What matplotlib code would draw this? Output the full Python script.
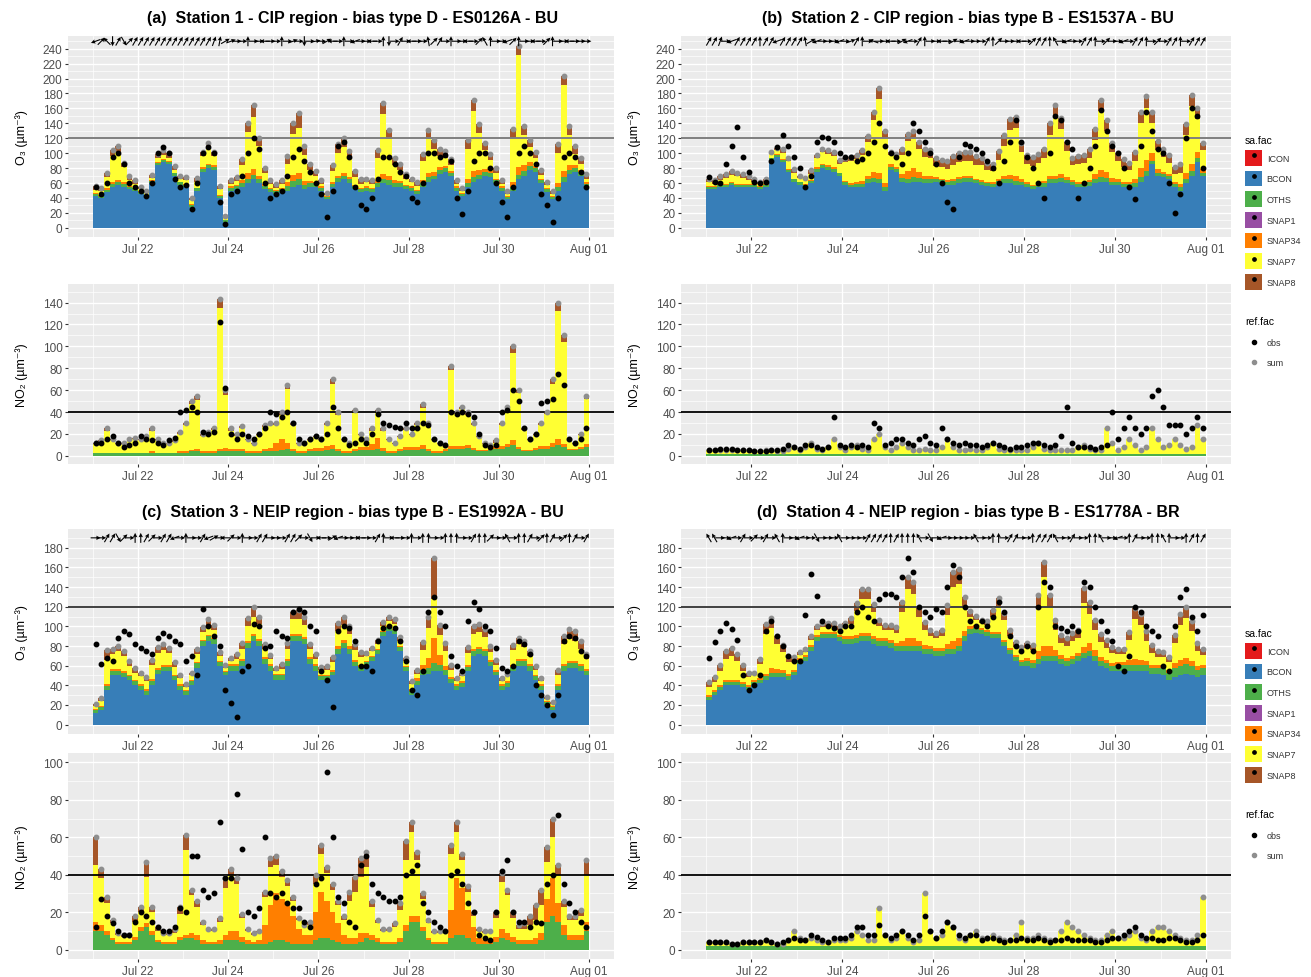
import numpy as np
import pandas as pd
import matplotlib
matplotlib.use("Agg")
import matplotlib.pyplot as plt
import matplotlib.dates as mdates
from matplotlib.patches import Patch
from matplotlib.lines import Line2D
from matplotlib.legend_handler import HandlerTuple

plt.rcParams['font.family'] = ['Liberation Sans', 'DejaVu Sans']

# 3-hourly values: 21 Jul 00h .. 31 Jul 21h (8 values per day)
times = pd.date_range("2019-07-21 00:00", periods=88, freq="3h")

sources = ["ICON", "BCON", "OTHS", "SNAP1", "SNAP34", "SNAP7", "SNAP8"]
colors = {"ICON": "#E41A1C", "BCON": "#377EB8", "OTHS": "#4DAF4A", "SNAP1": "#984EA3",
          "SNAP34": "#FF7F00", "SNAP7": "#FFFF33", "SNAP8": "#A65628"}

titles = ["(a)  Station 1 - CIP region - bias type D - ES0126A - BU",
          "(b)  Station 2 - CIP region - bias type B - ES1537A - BU",
          "(c)  Station 3 - NEIP region - bias type B - ES1992A - BU",
          "(d)  Station 4 - NEIP region - bias type B - ES1778A - BR"]
xlabels = ["Jul 22", "Jul 24", "Jul 26", "Jul 28", "Jul 30", "Aug 01"]

# ---- station 1 ----
a_o3_bcon = [42,40,48,55,58,55,52,50, 45,40,60,84,88,85,70,58, 55,28,50,75,80,78,40,8, 50,52,55,60,65,60,52,48, 45,48,50,55,58,52,55,55, 50,38,55,62,65,60,52,48, 50,48,55,60,58,55,55,52, 50,45,55,62,65,72,75,70, 50,42,55,62,65,70,68,60, 50,38,50,65,70,78,75,60, 48,38,50,62,72,75,70,55]
a_o3_oths = [3,3,3,4,4,4,3,3, 3,3,3,3,3,3,3,3, 3,3,3,4,4,4,3,2, 4,4,5,6,6,5,4,4, 4,4,6,8,8,6,5,5, 4,3,4,5,5,5,4,4, 4,4,5,6,6,5,5,4, 4,4,5,6,5,5,5,4, 4,3,5,6,6,5,5,4, 4,3,5,6,6,5,5,4, 4,3,5,6,6,5,5,4]
a_o3_snap34 = [1,1,2,2,2,2,1,1, 1,1,1,1,1,1,1,1, 1,1,1,2,2,2,1,1, 2,2,4,8,8,5,3,2, 2,2,5,8,8,5,3,2, 2,1,2,3,3,3,2,2, 2,2,4,6,5,4,3,2, 2,2,4,6,5,4,3,2, 2,1,5,8,6,4,3,2, 2,1,6,10,8,5,3,2, 2,1,5,8,6,4,3,2]
a_o3_snap7 = [5,5,15,35,38,20,8,5, 3,3,3,5,6,5,4,3, 5,5,8,15,22,12,8,3, 3,5,20,55,70,40,15,5, 3,5,25,55,60,35,15,8, 3,2,15,30,35,25,10,5, 5,5,30,80,50,20,15,8, 5,5,25,45,30,15,10,8, 3,3,40,80,50,25,15,8, 3,3,60,150,40,20,10,5, 3,3,40,115,40,15,8,5]
a_o3_snap8 = [5,5,5,8,8,6,5,5, 3,3,4,6,6,6,5,4, 4,3,5,6,6,6,4,2, 5,5,8,12,15,10,6,5, 5,5,10,15,20,12,8,6, 5,3,8,12,12,10,8,6, 5,5,10,15,12,10,8,6, 5,5,10,12,12,10,10,8, 5,5,12,15,12,10,8,6, 5,5,12,12,12,10,8,6, 5,5,12,12,12,10,8,6]
a_o3_obs = [55,45,60,95,100,85,60,55, 50,42,60,100,108,100,65,55, 58,25,60,100,108,100,35,5, 45,50,70,100,120,105,60,40, 45,50,70,95,105,90,75,60, 45,15,50,110,115,95,55,30, 25,40,65,95,95,85,75,70, 40,35,60,100,100,95,98,90, 40,18,50,90,100,100,80,60, 35,15,55,100,110,100,85,45, 30,8,40,95,100,95,75,55]
a_o3_wind = [200,45,135,270,60,300,45,60, 60,60,60,60,60,60,60,60, 60,60,60,60,60,70,80,30, 20,0,0,90,0,0,180,0, 0,90,0,20,0,270,0,10, 0,30,180,0,90,0,200,0, 0,180,0,90,270,0,60,0, 180,0,0,100,45,60,0,90, 0,0,180,0,45,120,90,0, 0,200,45,90,0,0,180,0, 45,90,0,0,180,0,0,0]

a_no2_oths = [3,3,3,3,3,3,3,3, 3,3,3,3,3,3,3,3, 3,4,4,3,3,3,4,4, 4,4,4,3,3,3,4,4, 4,5,6,4,3,3,4,4, 4,5,6,4,3,3,4,5, 5,5,6,4,3,3,4,5, 5,5,6,4,3,3,4,6, 6,6,7,5,4,4,5,6, 6,8,10,6,4,4,5,6, 6,8,10,8,5,5,6,8]
a_no2_snap34 = [0,0,0,0,0,0,0,0, 0,0,1,0,0,0,0,1, 1,1,2,1,1,1,2,3, 2,2,2,1,1,1,2,3, 8,10,6,2,1,1,2,3, 3,4,4,2,1,1,2,3, 3,6,10,3,1,1,2,3, 3,3,4,2,1,1,2,3, 3,3,3,2,1,1,2,3, 3,3,4,2,1,1,2,3, 3,4,5,3,1,1,2,3]
a_no2_snap7 = [8,10,20,11,8,8,11,12, 11,14,19,11,8,8,10,16, 24,42,45,14,17,20,129,49, 17,12,19,10,7,15,20,21, 16,22,49,22,7,7,8,10, 7,19,56,31,10,7,33,11, 6,12,23,16,10,7,11,16, 11,20,34,22,10,7,3,69, 29,34,27,21,12,6,2,3, 19,31,80,49,19,9,12,19, 29,54,117,93,8,5,11,41]
a_no2_snap8 = [1,1,2,1,1,1,1,1, 1,1,2,1,1,1,1,2, 2,3,4,2,1,1,8,4, 2,2,2,1,1,1,2,2, 2,3,4,2,1,1,1,1, 1,2,4,3,1,1,3,1, 1,2,3,2,1,1,1,1, 1,2,3,2,1,1,1,4, 2,2,3,2,1,1,1,2, 2,3,6,3,1,1,1,2, 2,4,8,6,1,1,1,3]
a_no2_obs = [12,12,15,18,12,8,10,12, 18,15,14,12,10,14,16,40, 42,45,40,22,20,22,122,62, 20,15,20,18,15,20,25,40, 38,35,40,30,15,12,15,18, 15,20,45,25,15,10,12,15, 12,20,38,30,28,26,25,30, 25,25,30,28,15,12,10,40, 38,40,38,35,20,10,8,10, 40,42,60,50,25,15,20,48, 50,52,75,65,15,12,15,25]

# ---- station 2 ----
b_o3_bcon = [52,52,55,55,57,55,55,55, 55,52,55,90,95,88,75,62, 58,55,60,75,80,78,75,70, 58,55,55,55,60,62,60,50, 78,75,62,60,62,62,60,60, 62,60,58,58,60,62,62,60, 58,56,55,58,60,60,58,58, 55,52,55,55,60,60,62,60, 58,55,55,56,60,62,62,58, 58,55,55,55,62,70,85,70, 68,65,55,50,60,70,88,70]
b_o3_oths = [3,3,3,3,3,3,3,3, 3,3,3,3,3,3,3,3, 3,3,3,4,4,4,4,3, 3,3,4,4,5,5,5,5, 4,4,5,6,6,5,5,5, 4,4,4,5,5,5,5,4, 4,4,4,5,5,5,5,4, 4,4,4,5,5,5,5,4, 4,4,4,5,6,6,5,4, 4,4,4,5,6,6,5,4, 4,4,4,5,6,6,5,4]
b_o3_snap34 = [1,1,1,1,1,1,1,1, 1,1,1,1,1,1,1,1, 1,1,1,2,2,2,2,1, 2,2,3,4,5,8,8,5, 3,3,5,10,12,8,5,4, 2,2,2,3,3,3,2,2, 2,2,2,3,5,6,6,4, 2,2,3,3,5,5,5,4, 2,2,3,3,6,10,8,5, 3,3,3,5,12,15,10,5, 3,3,3,4,8,10,8,5]
b_o3_snap7 = [5,3,5,8,10,10,8,5, 3,3,3,5,5,8,10,8, 5,5,8,12,15,15,15,12, 25,30,30,35,45,70,100,60, 12,12,25,40,40,30,25,25, 15,15,15,18,20,20,20,18, 20,15,15,25,40,60,65,35, 25,25,25,30,55,80,60,35, 20,25,25,30,45,78,55,35, 25,20,15,25,60,70,40,25, 20,15,10,15,50,77,45,25]
b_o3_snap8 = [5,5,5,5,5,5,5,5, 3,3,3,3,3,5,5,5, 3,3,5,5,5,5,5,5, 5,5,5,6,8,10,15,10, 5,5,8,10,10,10,10,10, 10,10,10,12,12,12,12,12, 10,10,10,12,15,15,15,12, 12,12,12,12,15,15,15,12, 10,10,10,12,15,15,15,12, 10,10,10,12,15,15,15,12, 10,10,10,12,15,15,15,10]
b_o3_obs = [68,62,60,85,110,135,95,75, 62,60,62,90,108,125,110,95, 80,55,70,115,122,120,115,100, 95,95,90,92,100,115,140,110, 100,95,85,100,140,130,115,100, 85,60,35,25,95,112,110,105, 100,90,80,60,90,115,145,115, 95,80,60,40,100,150,145,115, 105,40,60,80,110,158,130,110, 100,80,55,38,110,155,130,105, 100,60,20,45,120,160,150,80]
b_o3_wind = [60,60,70,0,200,60,60,60, 60,90,60,60,200,60,60,60, 60,100,30,200,0,0,0,200, 0,20,60,90,0,160,0,0, 180,0,30,200,0,60,90,0, 0,180,0,30,0,200,0,0, 0,60,90,45,0,0,0,180, 0,45,60,60,90,120,0,200, 0,0,60,60,90,0,45,0, 0,200,0,60,60,90,0,45, 0,60,60,90,0,60,60,60]

b_no2_oths = [2,2,2,2,2,2,2,2, 2,2,2,2,2,2,2,2, 2,2,2,2,2,2,2,2, 2,2,2,2,2,2,2,2, 2,2,2,2,2,2,2,2, 2,2,2,2,2,2,2,2, 2,2,2,2,2,2,2,2, 2,2,2,2,2,2,2,2, 2,2,2,2,2,2,2,2, 2,2,2,2,2,2,2,2, 2,2,2,2,2,2,2,2]
b_no2_snap7 = [3,3,3,3,3,3,3,3, 2,2,3,3,2,2,4,6, 3,6,10,4,3,6,13,6, 3,6,8,4,3,13,18,6, 3,6,10,6,3,3,4,3, 3,6,13,6,3,3,4,3, 3,6,10,4,3,3,3,3, 3,6,10,4,3,3,3,3, 3,6,8,4,3,3,23,10, 3,6,13,8,3,6,23,13, 6,8,13,8,4,6,26,13]
b_no2_obs = [5,5,6,6,6,5,5,5, 4,4,4,5,5,6,10,8, 6,10,10,8,6,8,35,10, 8,10,8,10,8,30,25,10, 12,15,15,12,10,15,18,12, 10,25,15,12,10,12,10,10, 8,10,12,10,8,6,8,8, 10,12,12,10,8,10,18,45, 12,8,8,8,6,8,10,40, 15,25,35,25,20,25,55,60, 45,28,28,28,20,25,35,25]

# ---- station 3 ----
c_o3_bcon = [12,15,35,50,50,48,45,40, 35,30,40,52,55,55,45,35, 30,40,58,80,85,82,60,50, 55,55,60,78,85,80,62,55, 45,45,60,85,85,82,62,55, 45,45,50,72,78,72,60,55, 60,65,72,90,95,92,75,55, 30,40,50,52,55,55,50,42, 35,38,55,70,72,70,60,50, 35,38,55,60,60,55,45,35, 20,15,35,55,58,58,55,50]
c_o3_oths = [3,3,4,5,5,5,4,4, 4,4,4,4,4,4,4,4, 4,4,5,5,5,5,4,4, 5,5,5,5,5,5,5,5, 5,5,5,5,5,5,5,5, 4,4,4,5,5,5,4,4, 4,4,4,4,4,4,4,4, 4,4,6,6,8,6,6,4, 4,4,4,5,5,5,4,4, 4,4,4,5,5,5,4,4, 3,3,4,5,5,5,5,5]
c_o3_snap34 = [1,1,2,2,2,2,1,1, 2,2,2,2,2,2,2,2, 1,1,1,1,1,1,1,1, 2,2,2,2,2,2,2,2, 2,2,2,2,2,2,2,2, 2,2,2,3,3,3,2,2, 1,1,1,1,1,1,1,1, 2,3,5,10,25,10,4,2, 2,2,2,2,2,2,2,2, 2,2,2,2,2,2,2,2, 1,1,2,2,2,2,2,2]
c_o3_snap7 = [3,5,25,15,18,15,10,8, 8,8,15,15,15,12,8,6, 3,5,8,8,10,8,5,3, 3,5,10,15,18,15,8,5, 3,5,10,15,15,12,8,5, 5,5,8,15,15,12,10,8, 5,5,5,5,5,5,5,5, 5,5,15,30,40,20,15,8, 3,5,12,15,15,12,8,5, 3,5,15,15,12,8,5,3, 2,2,10,20,22,20,15,10]
c_o3_snap8 = [2,3,10,5,5,5,5,5, 4,4,5,6,6,5,5,4, 3,3,5,5,6,5,4,3, 3,5,6,8,10,8,5,4, 3,5,6,8,10,8,5,5, 3,4,5,8,8,8,6,5, 3,3,4,4,5,5,4,3, 3,4,8,12,42,10,8,5, 3,4,6,8,8,8,6,5, 3,3,5,6,6,5,4,3, 2,2,5,8,10,10,8,5]
c_o3_obs = [82,62,68,65,88,95,92,82, 78,75,72,88,93,90,85,82, 65,70,50,118,100,90,80,35, 22,8,55,60,102,100,78,80, 95,90,88,115,118,115,100,95, 55,45,18,95,100,98,85,60, 60,55,85,98,100,98,85,65, 35,30,55,115,130,115,100,70, 60,55,105,125,118,100,95,78, 58,55,60,85,82,72,40,30, 20,10,30,85,90,88,75,70]
c_o3_wind = [0,0,60,60,300,45,0,90, 90,60,45,0,60,60,200,0, 90,0,0,60,200,30,0,180, 45,0,90,0,0,60,60,0, 0,0,60,60,45,0,300,0, 180,0,30,200,0,0,0,180, 0,0,60,90,0,180,0,0, 90,0,90,90,0,0,90,90, 90,0,0,60,90,90,45,0, 0,120,0,90,90,60,0,45, 90,60,0,45,90,60,0,60]

c_no2_oths = [10,10,8,5,3,3,3,5, 10,12,8,4,3,3,3,5, 6,6,5,3,3,3,3,5, 5,5,4,3,3,3,3,4, 5,5,4,3,3,3,3,5, 6,6,5,4,3,3,3,4, 6,5,4,3,3,3,4,10, 15,15,10,5,3,3,3,6, 8,8,6,4,3,3,3,4, 6,5,4,3,3,3,3,5, 15,18,15,8,5,5,5,10]
c_no2_snap34 = [5,3,2,1,1,1,1,2, 2,2,2,1,1,1,1,2, 2,3,3,2,1,1,2,3, 5,5,3,2,1,2,10,20, 25,22,20,15,8,5,5,15, 25,20,15,10,5,3,3,5, 3,3,2,1,1,1,2,3, 3,3,2,1,1,1,1,15, 30,25,15,8,3,2,2,3, 5,4,3,2,2,2,3,4, 12,20,10,5,3,3,3,5]
c_no2_snap7 = [30,25,15,8,4,3,3,8, 8,25,10,5,4,4,5,12, 45,20,15,8,6,6,10,25, 30,25,10,5,4,4,15,20, 15,12,10,8,5,4,5,15, 20,15,12,10,8,20,25,30, 35,15,8,6,6,8,15,35, 45,30,15,8,5,5,5,30, 25,15,10,6,4,4,4,10, 25,20,10,6,6,8,10,15, 20,22,15,10,8,8,10,25]
c_no2_snap8 = [15,5,3,2,1,1,1,3, 3,8,3,2,1,1,2,4, 8,3,3,2,1,1,2,5, 3,3,2,1,1,1,3,5, 5,3,3,2,1,1,2,5, 5,3,3,2,2,5,8,10, 8,3,2,1,1,2,4,10, 5,4,3,2,1,1,1,5, 5,3,3,2,1,1,1,3, 5,3,3,2,3,5,8,8, 8,10,5,3,2,2,3,8]
c_no2_obs = [12,27,18,14,10,8,8,15, 20,18,15,12,10,10,12,22, 20,50,50,32,28,30,68,38, 38,83,54,20,18,22,60,30, 28,30,25,22,22,15,12,35, 38,95,60,28,25,15,12,45, 50,35,30,28,26,26,28,40, 42,45,25,20,15,12,10,40, 42,35,25,20,8,6,5,20, 42,48,20,15,15,12,15,14, 35,40,72,35,25,20,15,12]

# ---- station 4 ----
d_o3_bcon = [25,30,35,40,40,40,38,35, 40,42,45,48,48,48,45,50, 62,65,75,85,88,88,88,85, 82,82,83,85,85,82,80,80, 78,75,75,75,75,75,72,72, 70,70,72,72,75,85,92,93, 92,90,88,88,80,72,65,60, 60,58,62,65,65,65,62,60, 62,65,68,70,65,60,58,55, 55,55,55,55,55,55,52,52, 50,45,48,50,52,50,48,50]
d_o3_oths = [3,3,3,3,3,3,3,3, 3,3,4,5,5,5,4,4, 4,4,4,4,4,4,4,4, 5,5,5,5,5,5,5,5, 5,5,5,5,5,5,5,5, 5,5,5,5,5,5,5,5, 4,4,4,4,4,4,4,4, 5,5,5,5,5,5,5,5, 5,5,5,5,5,5,5,5, 6,6,6,6,6,6,6,6, 8,8,10,10,10,10,8,8]
d_o3_snap34 = [2,2,2,2,2,2,2,2, 2,2,3,5,4,3,3,2, 2,2,2,2,2,2,2,2, 3,3,3,3,3,3,3,3, 3,3,5,8,8,5,4,3, 3,3,5,8,8,5,3,3, 2,2,2,2,2,2,2,2, 3,3,8,10,10,6,4,3, 3,3,6,8,6,4,3,3, 3,3,5,6,5,4,3,3, 3,3,5,6,6,5,4,3]
d_o3_snap7 = [8,8,15,22,25,20,12,8, 5,15,40,40,25,18,12,8, 3,3,5,5,5,5,5,5, 8,12,25,35,35,25,12,8, 10,10,30,50,45,25,15,10, 10,12,30,55,55,25,10,5, 5,5,15,25,20,12,8,8, 10,10,45,70,40,20,12,12, 15,15,45,30,20,15,12,10, 8,8,20,40,35,20,12,8, 8,8,20,35,40,30,15,10]
d_o3_snap8 = [5,5,6,8,8,7,6,5, 3,5,10,10,8,7,6,5, 3,3,4,4,4,4,4,4, 5,6,8,10,10,8,6,5, 5,6,10,12,12,10,8,6, 5,6,10,15,15,10,6,5, 3,4,8,10,8,6,5,5, 5,5,12,15,12,10,8,8, 8,8,15,12,10,8,8,6, 5,5,8,12,12,10,8,6, 5,5,8,12,12,10,8,6]
d_o3_obs = [68,84,95,103,97,86,50,35, 40,50,95,105,90,80,70,65, 65,112,153,131,105,100,98,95, 100,100,115,120,110,105,128,133, 133,130,150,170,155,120,115,110, 118,115,140,162,150,120,105,100, 105,100,110,125,115,90,80,75, 80,75,120,145,140,100,98,95, 100,95,145,140,120,105,95,85, 60,55,70,120,115,100,95,90, 60,55,100,130,138,110,95,112]
d_o3_wind = [120,120,0,0,200,0,60,0, 45,0,60,0,120,90,0,0, 200,0,0,300,0,0,0,120, 0,0,0,0,60,60,60,60, 90,60,90,90,90,120,0,300, 0,200,0,0,0,0,0,120, 0,0,90,90,0,60,60,0, 0,90,60,60,60,120,0,0, 60,0,0,90,90,120,0,0, 200,0,90,60,0,0,90,90, 120,90,0,0,90,60,90,60]

d_no2_oths = [2,2,2,2,2,2,2,2, 2,2,2,2,2,2,2,2, 2,2,2,2,2,2,2,2, 2,2,2,2,2,2,2,2, 2,2,2,2,2,2,2,2, 2,2,2,2,2,2,2,2, 2,2,2,2,2,2,2,2, 2,2,2,2,2,2,2,2, 2,2,2,2,2,2,2,2, 2,2,2,2,2,2,2,2, 2,2,2,2,2,2,2,2]
d_no2_snap7 = [2,2,2,2,1,1,2,2, 2,2,3,2,1,1,3,8, 4,3,4,3,2,2,3,3, 3,4,8,6,3,3,20,6, 3,4,8,4,2,3,28,8, 4,6,13,10,4,3,6,8, 4,4,6,4,3,3,6,13, 4,4,6,4,3,3,8,13, 10,8,6,4,3,3,6,8, 4,4,6,8,4,3,8,10, 10,8,6,4,3,3,6,26]
d_no2_obs = [4,4,4,4,3,3,4,4, 4,4,5,4,3,4,5,6, 5,5,8,7,5,4,6,6, 6,8,12,12,8,8,13,8, 6,8,10,8,5,8,18,10, 6,10,15,12,8,6,8,8, 5,6,6,5,4,5,5,6, 5,5,6,5,4,5,5,6, 5,5,5,5,4,4,5,6, 6,8,10,12,8,6,6,5, 5,6,6,5,4,4,5,8]

stations = [
    dict(o3={"BCON": a_o3_bcon, "OTHS": a_o3_oths, "SNAP34": a_o3_snap34, "SNAP7": a_o3_snap7, "SNAP8": a_o3_snap8},
         o3_obs=a_o3_obs, wind=a_o3_wind,
         no2={"OTHS": a_no2_oths, "SNAP34": a_no2_snap34, "SNAP7": a_no2_snap7, "SNAP8": a_no2_snap8},
         no2_obs=a_no2_obs),
    dict(o3={"BCON": b_o3_bcon, "OTHS": b_o3_oths, "SNAP34": b_o3_snap34, "SNAP7": b_o3_snap7, "SNAP8": b_o3_snap8},
         o3_obs=b_o3_obs, wind=b_o3_wind,
         no2={"OTHS": b_no2_oths, "SNAP7": b_no2_snap7}, no2_obs=b_no2_obs),
    dict(o3={"BCON": c_o3_bcon, "OTHS": c_o3_oths, "SNAP34": c_o3_snap34, "SNAP7": c_o3_snap7, "SNAP8": c_o3_snap8},
         o3_obs=c_o3_obs, wind=c_o3_wind,
         no2={"OTHS": c_no2_oths, "SNAP34": c_no2_snap34, "SNAP7": c_no2_snap7, "SNAP8": c_no2_snap8},
         no2_obs=c_no2_obs),
    dict(o3={"BCON": d_o3_bcon, "OTHS": d_o3_oths, "SNAP34": d_o3_snap34, "SNAP7": d_o3_snap7, "SNAP8": d_o3_snap8},
         o3_obs=d_o3_obs, wind=d_o3_wind,
         no2={"OTHS": d_no2_oths, "SNAP7": d_no2_snap7}, no2_obs=d_no2_obs),
]

for i, st in enumerate(stations):
    for key in ("o3", "no2"):
        for k, v in st[key].items():
            if len(v) != 88:
                raise ValueError(f"station {i} {key} {k}: {len(v)}")
    for key in ("o3_obs", "wind", "no2_obs"):
        if len(st[key]) != 88:
            raise ValueError(f"station {i} {key}: {len(st[key])}")

W, H = 1311, 978
fig = plt.figure(figsize=(W / 100, H / 100), dpi=100)


def rect(l, t, r, b):
    return [l / W, 1 - b / H, (r - l) / W, (b - t) / H]


xnum = mdates.date2num(times) + 1.5 / 24
bw = 3 / 24
day0 = mdates.date2num(pd.Timestamp("2019-07-21"))
major = [day0 + d for d in (1, 3, 5, 7, 9, 11)]
minor = [day0 + d for d in (0, 2, 4, 6, 8, 10)]
order = ["BCON", "OTHS", "SNAP34", "SNAP7", "SNAP8"]


def style(ax, ylim, ymax_tick, ylabel, lab_x):
    ax.set_facecolor("#EBEBEB")
    for s in ax.spines.values():
        s.set_visible(False)
    ax.set_xlim(day0 - 0.55, day0 + 11.55)
    ax.set_ylim(*ylim)
    ax.set_xticks(major)
    ax.set_xticklabels(xlabels)
    ax.set_xticks(minor, minor=True)
    ax.set_yticks(np.arange(0, ymax_tick + 1, 20))
    ax.set_yticks(np.arange(10, ylim[1], 20), minor=True)
    ax.grid(which="major", color="white", lw=1.0)
    ax.grid(which="minor", color="white", lw=0.5)
    ax.set_axisbelow(True)
    ax.tick_params(which="major", length=2.5, width=0.8, color="#333333",
                   labelcolor="#4D4D4D", labelsize=8.5, pad=1.5)
    ax.tick_params(which="minor", length=0)
    ax.set_ylabel(ylabel, fontsize=9, color="black")
    ax.yaxis.set_label_coords(lab_x, 0.5)


def stack(ax, comps, obs):
    base = np.zeros(88)
    for name in order:
        if name in comps:
            v = np.array(comps[name], float)
            ax.bar(xnum, v, bw, bottom=base, color=colors[name], linewidth=0, zorder=2)
            base += v
    ax.plot(xnum, base, ls="", marker="o", ms=3.2, color="#8E8E8E", zorder=4)
    ax.plot(xnum, obs, ls="", marker="o", ms=3.2, color="black", zorder=5)


# layout in pixels
cols = [(68, 614), (681, 1231), (68, 614), (681, 1231)]
rows = [(37, 238, 285, 465), (37, 238, 285, 465), (530, 735, 754, 960), (530, 735, 754, 960)]
o3_lims = [(-12.3, 257), (-12.3, 257), (-9.5, 199), (-9.5, 199)]
o3_top = [240, 240, 180, 180]
arrow_y = [250, 250, 190, 190]
no2_lims = [(-7.5, 157), (-7.5, 157), (-5, 105), (-5, 105)]
no2_top = [140, 140, 100, 100]
hcols = ["#7F7F7F", "#7F7F7F", "#404040", "#404040"]
title_y = [18, 18, 513, 513]

for i, st in enumerate(stations):
    l, r = cols[i]
    t1, b1, t2, b2 = rows[i]
    labx = -40 / (r - l)

    ax1 = fig.add_axes(rect(l, t1, r, b1))
    stack(ax1, st["o3"], st["o3_obs"])
    ax1.axhline(120, color=hcols[i], lw=1.4, zorder=3)
    ang = np.deg2rad(np.array(st["wind"], float))
    ax1.quiver(xnum, np.full(88, arrow_y[i]), np.cos(ang) * 10, np.sin(ang) * 10,
               angles="uv", scale_units="dots", scale=1, units="dots", width=1.1,
               headwidth=4, headlength=4, headaxislength=3.5, pivot="middle",
               color="black", zorder=6)
    style(ax1, o3_lims[i], o3_top[i], "O\u2083 (\u00b5m\u207b\u00b3)", labx)

    ax2 = fig.add_axes(rect(l, t2, r, b2))
    stack(ax2, st["no2"], st["no2_obs"])
    ax2.axhline(40, color="black", lw=1.3, zorder=3)
    style(ax2, no2_lims[i], no2_top[i], "NO\u2082 (\u00b5m\u207b\u00b3)", labx)

    fig.text((l + r) / 2 / W + 12 / W, 1 - title_y[i] / H, titles[i], ha="center", va="center",
             fontsize=11.5, fontweight="bold")

fill_handles = [(Patch(facecolor=colors[s], edgecolor="none"),
                 Line2D([], [], ls="", marker="o", ms=2.4, color="black")) for s in sources]
ref_handles = [Line2D([], [], ls="", marker="o", ms=3, color="black"),
               Line2D([], [], ls="", marker="o", ms=3, color="#8E8E8E")]

for ytop, yref in ((136, 317), (629, 810)):
    fig.legend(fill_handles, sources, loc="upper left", bbox_to_anchor=(1245 / W, 1 - ytop / H),
               frameon=False, title="sa.fac", fontsize=6.5, title_fontsize=7.5,
               handler_map={tuple: HandlerTuple(ndivide=1)}, handlelength=1.9,
               handleheight=2.3, labelspacing=0.55, handletextpad=0.5, alignment="left",
               borderaxespad=0, borderpad=0, labelcolor="#333333")
    fig.legend(ref_handles, ["obs", "sum"], loc="upper left", bbox_to_anchor=(1245 / W, 1 - yref / H),
               frameon=False, title="ref.fac", fontsize=6.5, title_fontsize=7.5,
               handlelength=1.9, labelspacing=1.3, handletextpad=0.5, alignment="left",
               borderaxespad=0, borderpad=0, labelcolor="#333333")

fig.savefig("out.png", dpi=100)
